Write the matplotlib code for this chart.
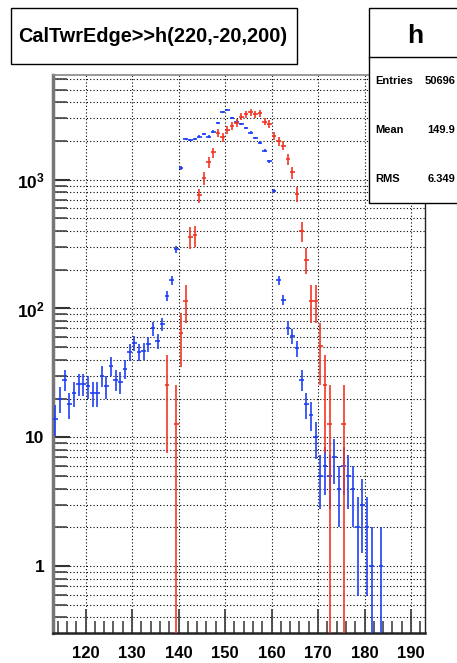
import numpy as np
import matplotlib
matplotlib.use('Agg')
import matplotlib.pyplot as plt
from matplotlib.ticker import FixedLocator, MultipleLocator, NullFormatter, FixedFormatter
from matplotlib.patches import Rectangle
from matplotlib.lines import Line2D

plt.rcParams['font.family'] = ['Liberation Sans', 'DejaVu Sans']
plt.rcParams['mathtext.fontset'] = 'custom'
plt.rcParams['mathtext.rm'] = 'Liberation Sans'
plt.rcParams['mathtext.bf'] = 'Liberation Sans:bold'

# ---- data (bin low edges, width 1) ----
blue_bins = list(range(113, 184))
blue_values = [14, 20, 28, 18, 22, 26, 26, 25, 22, 22,
               30, 25, 36, 28, 27, 34, 46, 54, 46, 47,
               53, 70, 56, 76, 125, 166, 288, 1231, 2070, 2040,
               2070, 2160, 2270, 2160, 2360, 2740, 3330, 3470, 3035, 2825,
               2700, 2510, 2320, 2100, 1940, 1675, 1386, 812, 166, 117,
               71, 61, 49, 28, 18, 15, 10, 5, 6, 5,
               7, 4, 6, 5, 4, 2, 3, 2, 1, 0,
               1]
red_bins = list(range(137, 176))
red_values = [25.6, 0, 12.8, 64, 115, 358, 371, 755, 1024, 1370,
              1630, 2300, 2140, 2435, 2630, 2745, 3090, 3220, 3335, 3220,
              3280, 2825, 2700, 2190, 1980, 1840, 1445, 1140, 770, 398,
              240, 115, 115, 51.2, 25.6, 12.8, 0, 0, 12.8]
red_weight = 12.8

x_ticks = [120, 130, 140, 150, 160, 170, 180, 190]
y_ticks = [1, 10, 100, 1000]
y_labels = ['1', '10', r'$\mathbf{10^{2}}$', r'$\mathbf{10^{3}}$']

title_text = 'CalTwrEdge>>h(220,-20,200)'
stats_name = 'h'
stats_rows = [('Entries', '50696'), ('Mean', '149.9'), ('RMS', '6.349')]

W, H = 457, 663
fig = plt.figure(figsize=(W / 100, H / 100), dpi=100)
fx = lambda x: x / W
fy = lambda y: 1 - y / H

ax = fig.add_axes([fx(53), fy(633), fx(425) - fx(53), fy(75) - fy(633)])
ax.set_yscale('log')
ax.set_xlim(113, 193)
ax.set_ylim(0.303, 6490)


def draw_hist(bins, vals, weight, color):
    b = np.array(bins, dtype=float)
    v = np.array(vals, dtype=float)
    m = v > 0
    b, v = b[m], v[m]
    err = np.sqrt(v * weight)
    lo = np.minimum(err, v - 1e-4)
    ax.errorbar(b + 0.5, v, xerr=0.5, yerr=[lo, err], fmt='none',
                ecolor=color, elinewidth=1.3, capsize=0, alpha=0.9, zorder=3)


draw_hist(blue_bins, blue_values, 1.0, '#1a3cf5')
draw_hist(red_bins, red_values, red_weight, '#f2321e')

# ticks & grid
ax.xaxis.set_major_locator(FixedLocator(x_ticks))
ax.xaxis.set_minor_locator(MultipleLocator(2))
ax.set_xticklabels([str(t) for t in x_ticks])
ax.yaxis.set_major_locator(FixedLocator(y_ticks))
ax.yaxis.set_major_formatter(FixedFormatter(y_labels))
minor_y = [m * 10.0 ** e for e in range(-1, 4) for m in range(2, 10)]
ax.yaxis.set_minor_locator(FixedLocator(minor_y))
ax.yaxis.set_minor_formatter(NullFormatter())

dots = (0, (1, 2))
ax.grid(axis='y', which='both', color='black', linestyle=dots, linewidth=0.8)
ax.grid(axis='x', which='major', color='black', linestyle=dots, linewidth=0.8)
ax.set_axisbelow(True)

ax.tick_params(axis='x', which='major', direction='in', length=17, width=1.3,
               color='#444444', pad=9.5, labelsize=12)
ax.tick_params(axis='x', which='minor', direction='in', length=9, width=1.2,
               color='#444444')
ax.tick_params(axis='y', which='major', direction='in', length=12, width=1.5,
               color='#333333', pad=6)
ax.tick_params(axis='y', which='minor', direction='in', length=10, width=1.2,
               color='#444444')
for lbl in ax.get_xticklabels():
    lbl.set_fontweight('bold')
for lbl, t in zip(ax.get_yticklabels(), y_labels):
    lbl.set_fontweight('bold')
    lbl.set_fontsize(12.5)

ax.spines['left'].set_linewidth(2.5)
ax.spines['left'].set_color('#777777')
ax.spines['bottom'].set_linewidth(1.8)
ax.spines['bottom'].set_color('#222222')
ax.spines['top'].set_linewidth(1.2)
ax.spines['top'].set_color('#888888')
ax.spines['right'].set_linewidth(1.0)
ax.spines['right'].set_color('#222222')

# title box
fig.patches.append(Rectangle((fx(10.7), fy(64)), fx(296.7) - fx(10.7), fy(8.3) - fy(64),
                             transform=fig.transFigure, facecolor='white',
                             edgecolor='black', linewidth=1.0))
fig.text(fx(153), fy(36.5), title_text, ha='center', va='center',
         fontsize=14.3, fontweight='bold')

# stats box
fig.patches.append(Rectangle((fx(369), fy(203)), fx(461) - fx(369), fy(8) - fy(203),
                             transform=fig.transFigure, facecolor='white',
                             edgecolor='black', linewidth=1.0, zorder=5))
fig.lines.append(Line2D([fx(369), fx(461)], [fy(56.7), fy(56.7)],
                        transform=fig.transFigure, color='black', linewidth=1.0, zorder=6))
fig.text(fx(415), fy(36), stats_name, ha='center', va='center', fontsize=19,
         fontweight='bold', zorder=7)
for i, (k, val) in enumerate(stats_rows):
    yy = 81 + i * 49
    fig.text(fx(375), fy(yy), k, ha='left', va='center', fontsize=8,
             fontweight='bold', zorder=7)
    fig.text(fx(455), fy(yy), val, ha='right', va='center', fontsize=8,
             fontweight='bold', zorder=7)

fig.savefig('out.png', dpi=100)
